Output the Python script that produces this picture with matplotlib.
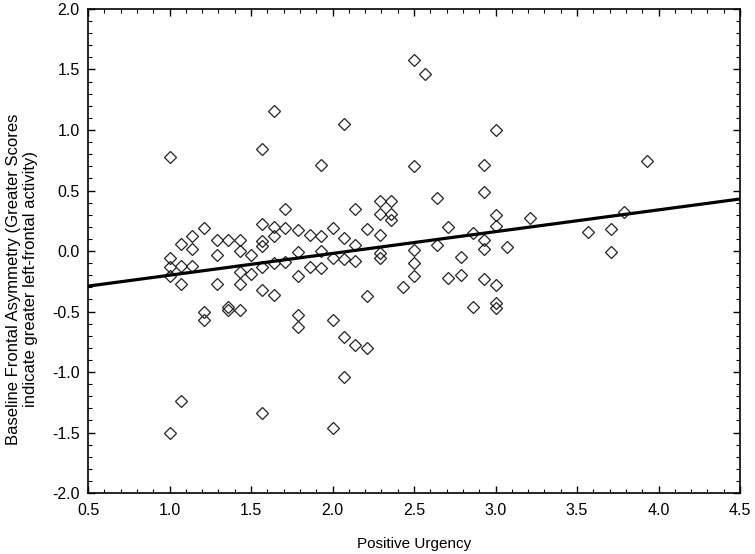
import numpy as np
import matplotlib
matplotlib.use('Agg')
import matplotlib.pyplot as plt
from matplotlib.ticker import MultipleLocator

plt.rcParams['font.family'] = ['Liberation Sans', 'DejaVu Sans']

# Positive Urgency (x) and baseline frontal asymmetry (y)
urgency = [1.00, 1.00, 1.00, 1.00, 1.00,
           1.07, 1.07, 1.07, 1.07,
           1.14, 1.14, 1.14,
           1.21, 1.21, 1.21,
           1.29, 1.29, 1.29,
           1.36, 1.36, 1.36,
           1.43, 1.43, 1.43, 1.43, 1.43,
           1.50, 1.50,
           1.57, 1.57, 1.57, 1.57, 1.57, 1.57, 1.57,
           1.64, 1.64, 1.64, 1.64, 1.64,
           1.71, 1.71, 1.71,
           1.79, 1.79, 1.79, 1.79, 1.79,
           1.86, 1.86,
           1.93, 1.93, 1.93, 1.93,
           2.00, 2.00, 2.00, 2.00,
           2.07, 2.07, 2.07, 2.07, 2.07,
           2.14, 2.14, 2.14, 2.14,
           2.21, 2.21, 2.21,
           2.29, 2.29, 2.29, 2.29, 2.29,
           2.36, 2.36, 2.36,
           2.43,
           2.50, 2.50, 2.50, 2.50, 2.50,
           2.57,
           2.64, 2.64,
           2.71, 2.71,
           2.79, 2.79,
           2.86, 2.86,
           2.93, 2.93, 2.93, 2.93, 2.93,
           3.00, 3.00, 3.00, 3.00, 3.00, 3.00,
           3.07, 3.21, 3.57, 3.71, 3.71, 3.79, 3.93]
asymmetry = [0.78, -0.06, -0.13, -0.21, -1.50,
             0.06, -0.12, -0.27, -1.24,
             0.12, 0.02, -0.12,
             0.19, -0.50, -0.57,
             0.09, -0.03, -0.27,
             0.09, -0.46, -0.49,
             0.09, 0.00, -0.17, -0.27, -0.49,
             -0.03, -0.19,
             0.84, 0.22, 0.08, 0.04, -0.13, -0.32, -1.34,
             1.16, 0.20, 0.12, -0.10, -0.36,
             0.35, 0.19, -0.09,
             0.17, -0.01, -0.21, -0.53, -0.63,
             0.13, -0.13,
             0.71, 0.12, 0.00, -0.14,
             0.19, -0.06, -0.57, -1.46,
             1.05, 0.11, -0.07, -0.71, -1.04,
             0.35, 0.05, -0.08, -0.78,
             0.18, -0.37, -0.80,
             0.41, 0.31, 0.13, -0.02, -0.06,
             0.41, 0.31, 0.26,
             -0.30,
             1.58, 0.70, 0.01, -0.10, -0.21,
             1.46,
             0.44, 0.05,
             0.20, -0.22,
             -0.05, -0.20,
             0.15, -0.46,
             0.71, 0.49, 0.09, 0.02, -0.23,
             1.00, 0.30, 0.21, -0.28, -0.43, -0.47,
             0.03, 0.27, 0.16, 0.18, -0.01, 0.32, 0.74]

# regression line end points
fit_x = [0.5, 4.5]
fit_y = [-0.29, 0.43]

fig = plt.figure(figsize=(7.55, 5.54), dpi=100)
ax = fig.add_axes([0.1166, 0.110, 0.8636, 0.8738])

ax.plot(urgency, asymmetry, linestyle='none', marker='D', markersize=6.3,
        markerfacecolor='none', markeredgecolor='#222222', markeredgewidth=0.9)
ax.plot(fit_x, fit_y, color='black', linewidth=2.3)

ax.set_xlim(0.5, 4.5)
ax.set_ylim(-2.0, 2.0)
ax.xaxis.set_major_locator(MultipleLocator(0.5))
ax.xaxis.set_minor_locator(MultipleLocator(0.1))
ax.yaxis.set_major_locator(MultipleLocator(0.5))
ax.yaxis.set_minor_locator(MultipleLocator(0.1))
ax.xaxis.set_major_formatter(plt.FormatStrFormatter('%.1f'))
ax.yaxis.set_major_formatter(plt.FormatStrFormatter('%.1f'))

ax.tick_params(which='both', direction='in', top=True, right=True,
               labelsize=11.5, colors='black')
ax.tick_params(which='major', length=5, width=1)
ax.tick_params(which='minor', length=3, width=0.8)
ax.tick_params(axis='x', pad=7)
ax.tick_params(axis='y', pad=6)
for sp in ax.spines.values():
    sp.set_linewidth(1.2)

ax.set_xlabel('Positive Urgency', fontsize=11, labelpad=14)
fig.text(22 / 755, 1 - 279 / 554,
         'Baseline Frontal Asymmetry (Greater Scores\nindicate greater left-frontal activity)',
         rotation=90, ha='center', va='center', fontsize=12, linespacing=1.1)

fig.savefig('out.png', dpi=100)
